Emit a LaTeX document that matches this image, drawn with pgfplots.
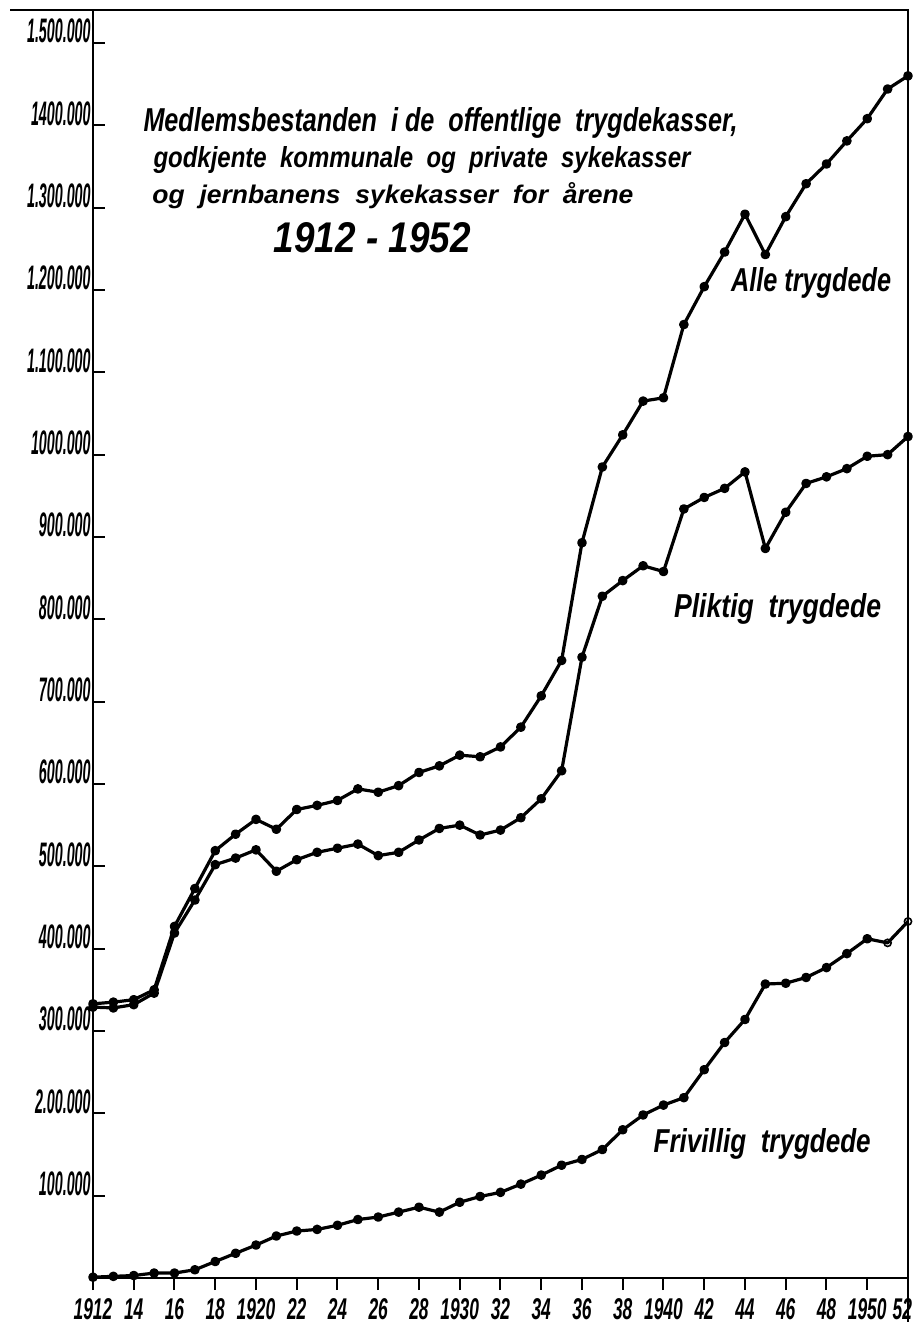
\documentclass[border=0pt]{standalone}
\usepackage{fontspec}
\setmainfont{Liberation Sans}
\usepackage{graphicx}
\usepackage{pgfplots}
\pgfplotsset{compat=1.18}
\usepackage{pgfplotstable}

\pgfplotstableread{
year alle plikt friv
1912 333 329 1
1913 335 328 2
1914 338 332 3
1915 350 346 6
1916 427 419 6
1917 473 459 10
1918 519 502 20
1919 539 510 30
1920 557 520 40
1921 545 494 51
1922 569 508 57
1923 574 517 59
1924 580 522 64
1925 594 527 71
1926 590 513 74
1927 598 517 80
1928 614 532 86
1929 622 546 80
1930 635 550 92
1931 633 538 99
1932 645 544 104
1933 669 559 114
1934 707 582 125
1935 750 616 137
1936 893 754 144
1937 985 828 156
1938 1024 847 180
1939 1065 865 198
1940 1069 858 210
1941 1158 934 219
1942 1204 948 253
1943 1246 959 286
1944 1292 979 314
1945 1243 886 357
1946 1289 930 358
1947 1329 965 365
1948 1353 973 377
1949 1381 983 394
1950 1408 998 412
1951 1444 1000 407
1952 1460 1022 433
}\data

\newcommand{\tl}[1]{\scalebox{0.42}[1]{\fontsize{17}{17}\selectfont\bfseries\itshape #1}}
\newcommand{\xl}[1]{\scalebox{0.58}[1]{\fontsize{15}{15}\selectfont\bfseries\itshape #1}}
\newcommand{\hw}[3]{\resizebox{#1}{#2}{\fontsize{14}{16}\selectfont\bfseries\itshape #3}}

\begin{document}
\begin{tikzpicture}
\useasboundingbox (-46.5pt,-23pt) rectangle (410.5pt,639pt);
\begin{axis}[
  at={(0pt,0pt)}, anchor=south west,
  width=407.5pt, height=634pt, scale only axis,
  xmin=1912, xmax=1952, ymin=0, ymax=1540,
  clip=false,
  axis line style={line width=1pt, black},
  xtick=\empty,
  ytick={100,200,...,1500},
  yticklabels={\tl{100.000},\tl{2.00.000},\tl{300.000},\tl{400.000},\tl{500.000},\tl{600.000},\tl{700.000},\tl{800.000},\tl{900.000},\tl{1000.000},\tl{1.100.000},\tl{1.200.000},\tl{1.300.000},\tl{1400.000},\tl{1.500.000}},
  ytick pos=left,
  tick align=inside,
  major tick length=6pt,
  tick style={line width=1pt, black},
  yticklabel style={anchor=base east, inner sep=0pt, xshift=-1pt},
]
\addplot[black, line width=1.6pt, line join=round, mark=*, mark size=1.6pt] table[x=year, y=alle] {\data};
\addplot[black, line width=1.6pt, line join=round, mark=*, mark size=1.6pt] table[x=year, y=plikt] {\data};
\addplot[black, line width=1.6pt, line join=round, mark=*, mark size=1.6pt, mark indices={1,...,39}] table[x=year, y=friv] {\data};
\addplot[black, only marks, mark=o, mark size=1.8pt, line width=0.8pt, mark options={fill=white}] coordinates {(1951,407) (1952,433)};

\draw[line width=1pt] (axis cs:1912,1540) -- ++(-41.5pt,0pt);
\draw[line width=1pt] (axis cs:1952,0) -- ++(0pt,-22pt);

\node[anchor=base west, inner sep=0pt] at (axis cs:1914.46,1392) {\hw{297pt}{12pt}{Medlemsbestanden\ \ i de\ \ offentlige\ \ trygdekasser,}};
\node[anchor=base west, inner sep=0pt] at (axis cs:1914.95,1349) {\hw{268.5pt}{10.5pt}{godkjente\ \ kommunale\ \ og\ \ private\ \ sykekasser}};
\node[anchor=base west, inner sep=0pt] at (axis cs:1914.9,1305) {\hw{240.5pt}{10.5pt}{og\ \ jernbanens\ \ sykekasser\ \ for\ \ årene}};
\node[anchor=base west, inner sep=0pt] at (axis cs:1920.85,1245) {\hw{98.5pt}{15pt}{1912\ -\ 1952}};
\node[anchor=base west, inner sep=0pt] at (axis cs:1943.3,1198) {\hw{80pt}{12pt}{Alle trygdede}};
\node[anchor=base west, inner sep=0pt] at (axis cs:1940.5,802) {\hw{103.5pt}{12pt}{Pliktig\ \ trygdede}};
\node[anchor=base west, inner sep=0pt] at (axis cs:1939.5,153) {\hw{108.5pt}{12pt}{Frivillig\ \ trygdede}};
\end{axis}
\begin{axis}[
  at={(0pt,0pt)}, anchor=south west,
  width=407.5pt, height=634pt, scale only axis,
  xmin=1912, xmax=1952, ymin=0, ymax=1540,
  hide y axis,
  axis x line*=bottom,
  axis line style={line width=1pt, black},
  xtick={1912,1914,...,1952},
  xticklabels={\xl{1912},\xl{14},\xl{16},\xl{18},\xl{1920},\xl{22},\xl{24},\xl{26},\xl{28},\xl{1930},\xl{32},\xl{34},\xl{36},\xl{38},\xl{1940},\xl{42},\xl{44},\xl{46},\xl{48},\xl{1950},{\makebox[20pt][r]{\xl{52}\hspace{8pt}}}},
  tick align=outside,
  major tick length=6pt,
  tick style={line width=1pt, black},
  xticklabel style={anchor=north, inner sep=0pt, yshift=-4pt},
]
\addplot[draw=none] coordinates {(1912,0)};
\end{axis}
\end{tikzpicture}
\end{document}
